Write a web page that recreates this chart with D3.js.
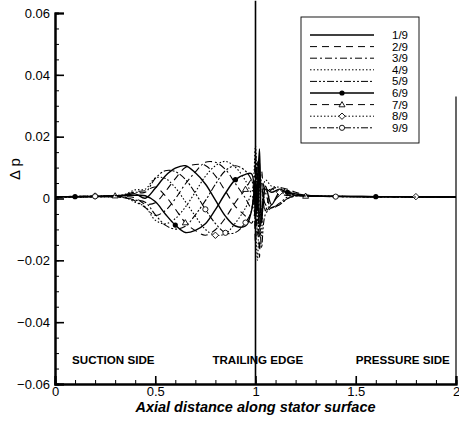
<!DOCTYPE html>
<html>
<head>
<meta charset="utf-8">
<script src="https://cdn.jsdelivr.net/npm/d3@7"></script>
<style>
  body { margin: 0; background: #fff; }
  text { font-family: 'Liberation Sans', Arial, sans-serif; fill: #000; }
</style>
</head>
<body>
<svg id="chart" width="459" height="421"></svg>
<script>
// axial positions shared by all series
const xs = [0, 0.1, 0.2, 0.3, 0.35, 0.4, 0.45, 0.5, 0.55, 0.6, 0.65, 0.7, 0.75, 0.8, 0.85, 0.9, 0.95,
  0.98, 1.0, 1.01, 1.02, 1.03, 1.05, 1.08, 1.12, 1.16, 1.2, 1.25, 1.3, 1.4, 1.6, 1.8, 2.0]

const names = ['1/9', '2/9', '3/9', '4/9', '5/9', '6/9', '7/9', '8/9', '9/9']

const s1 = [0.0005, 0.0006, 0.0007, 0.0008, 0.001, 0.0015,
  0.0001, 0.0033, 0.0073, 0.0098, 0.0106, 0.0083, 0.0047, -0.0005, -0.0057, -0.0089, -0.0089,
  -0.004, 0.006, -0.004, 0.012, -0.006, 0.004, -0.002, 0.002, 0.002, 0.001, 0.001, 0.0008,
  0.0007, 0.0006, 0.0005, 0.0005]
const s2 = [0.0005, 0.0005, 0.0006, 0.0007, 0.0006, 0.0002,
  -0.0018, -0.0014, 0.0022, 0.0064, 0.0100, 0.0110, 0.0107, 0.0073, 0.0024, -0.0026, -0.0057,
  -0.008, -0.003, 0.010, 0.004, 0.009, -0.004, 0.003, 0.0035, 0.003, 0.002, 0.0012, 0.0008,
  0.0007, 0.0006, 0.0006, 0.0005]
const s3 = [0.0004, 0.0005, 0.0005, 0.0006, 0.0004, -0.0008,
  -0.0029, -0.0055, -0.0039, -0.0001, 0.0047, 0.0086, 0.0117, 0.0117, 0.0094, 0.0048, 0.0001,
  -0.003, 0.014, 0.002, -0.006, 0.006, 0.002, -0.003, -0.002, 0.0, 0.0008, 0.0008, 0.0007,
  0.0006, 0.0005, 0.0005, 0.0005]
const s4 = [0.0004, 0.0004, 0.0005, 0.0005, 0.0003, -0.0012,
  -0.0027, -0.0070, -0.0082, -0.0065, -0.0028, 0.0021, 0.0072, 0.0106, 0.0120, 0.0101, 0.0058,
  0.002, 0.017, -0.008, 0.008, -0.004, 0.006, 0.004, 0.0036, 0.0025, 0.0015, 0.001, 0.0008,
  0.0007, 0.0006, 0.0005, 0.0005]
const s5 = [0.0005, 0.0005, 0.0006, 0.0005, 0.0002, -0.0005,
  -0.0012, -0.0052, -0.0086, -0.0099, -0.0090, -0.0053, -0.0007, 0.0046, 0.0090, 0.0106, 0.0089,
  0.006, 0.002, 0.012, -0.010, 0.003, -0.002, -0.003, -0.0015, 0.0005, 0.001, 0.0009, 0.0007,
  0.0006, 0.0006, 0.0005, 0.0005]
const s6 = [0.0006, 0.0006, 0.0007, 0.0008, 0.0009, 0.0010,
  0.0009, -0.0010, -0.0050, -0.0086, -0.0110, -0.0103, -0.0082, -0.0036, 0.0017, 0.0061, 0.0078,
  0.008, -0.006, 0.004, 0.016, -0.008, 0.003, 0.002, 0.003, 0.002, 0.0015, 0.001, 0.0008,
  0.0007, 0.0006, 0.0006, 0.0005]
const s7 = [0.0006, 0.0007, 0.0008, 0.0009, 0.0012, 0.0022,
  0.0025, 0.0037, 0.0009, -0.0034, -0.0078, -0.0104, -0.0119, -0.0101, -0.0063, -0.0012, 0.0030,
  0.006, -0.014, 0.008, -0.019, 0.005, -0.004, -0.002, 0.001, 0.001, 0.001, 0.0008, 0.0007,
  0.0007, 0.0006, 0.0005, 0.0005]
const s8 = [0.0006, 0.0007, 0.0008, 0.001, 0.0014, 0.0028,
  0.0030, 0.0066, 0.0065, 0.0035, -0.0010, -0.0057, -0.0100, -0.0119, -0.0114, -0.0079, -0.0031,
  0.001, -0.010, -0.020, 0.006, -0.012, 0.002, 0.003, 0.002, 0.0015, 0.001, 0.0009, 0.0008,
  0.0007, 0.0006, 0.0006, 0.0005]
const s9 = [0.0005, 0.0006, 0.0007, 0.0009, 0.0012, 0.0020,
  0.0020, 0.0065, 0.0090, 0.0087, 0.0062, 0.0017, -0.0035, -0.0081, -0.0111, -0.0110, -0.0078,
  -0.004, 0.004, -0.012, -0.004, -0.016, -0.005, -0.003, -0.002, 0.0, 0.0008, 0.0008, 0.0007,
  0.0006, 0.0005, 0.0005, 0.0005]

const series = [s1, s2, s3, s4, s5, s6, s7, s8, s9]

// which points of a series carry a symbol (series 6..9 only)
const markerIdx = [[], [], [], [], [], [1, 9, 15, 25, 30], [3, 10, 16, 27], [2, 13, 24, 31], [2, 12, 14, 16, 29]]

const yTicks = [-0.06, -0.04, -0.02, 0, 0.02, 0.04, 0.06]
const xTicks = [0, 0.5, 1, 1.5, 2]

const dashes = ['none', '7,5', '7,3,2,3', '1.5,2', '7,2,2,2,2,2', 'none', '7,5', '1.5,2', '7,2,2,2,2,2']
const symbols = [null, null, null, null, null, 'dot', 'tri', 'dia', 'circ']

const svg = d3.select('#chart')
const x = d3.scaleLinear().domain([0, 2]).range([55, 456])
const y = d3.scaleLinear().domain([-0.06, 0.06]).range([384, 13])

function drawSymbol(g, type, cx, cy) {
  if (type === 'dot') {
    g.append('circle').attr('cx', cx).attr('cy', cy).attr('r', 2.6).attr('fill', '#000')
  } else if (type === 'circ') {
    g.append('circle').attr('cx', cx).attr('cy', cy).attr('r', 2.6)
      .attr('fill', '#fff').attr('stroke', '#000').attr('stroke-width', 0.9)
  } else if (type === 'tri') {
    g.append('path').attr('d', `M${cx},${cy - 3}L${cx + 3},${cy + 2.2}L${cx - 3},${cy + 2.2}Z`)
      .attr('fill', '#fff').attr('stroke', '#000').attr('stroke-width', 0.9)
  } else if (type === 'dia') {
    g.append('path').attr('d', `M${cx},${cy - 3.2}L${cx + 3.2},${cy}L${cx},${cy + 3.2}L${cx - 3.2},${cy}Z`)
      .attr('fill', '#fff').attr('stroke', '#000').attr('stroke-width', 0.9)
  }
}

// curves
const line = d3.line()
  .x((d, i) => x(xs[i]))
  .y(d => y(d))
  .curve(d3.curveCatmullRom.alpha(0.5))

const curves = svg.append('g')
series.forEach((s, k) => {
  curves.append('path')
    .datum(s)
    .attr('d', line)
    .attr('fill', 'none')
    .attr('stroke', '#000')
    .attr('stroke-width', k === 0 || k === 5 ? 1.4 : 1.1)
    .attr('stroke-dasharray', dashes[k])
  markerIdx[k].forEach(i => drawSymbol(curves, symbols[k], x(xs[i]), y(s[i])))
})

// trailing edge line
svg.append('line')
  .attr('x1', x(1)).attr('x2', x(1))
  .attr('y1', y(0.064)).attr('y2', y(-0.06))
  .attr('stroke', '#000').attr('stroke-width', 1.6)

// right frame (only the lower part shows in the original)
svg.append('line')
  .attr('x1', x(2)).attr('x2', x(2))
  .attr('y1', y(0.033)).attr('y2', y(-0.06))
  .attr('stroke', '#000').attr('stroke-width', 1.2)

// axes
const yAxis = d3.axisLeft(y).tickValues(yTicks).tickSize(-9).tickPadding(5)
  .tickFormat(d => d === 0 ? '0' : d3.format('.2f')(d))
const yMinor = d3.axisLeft(y).tickValues(d3.range(-0.06, 0.0601, 0.005)).tickSize(-4).tickFormat('')
const xAxis = d3.axisBottom(x).tickValues(xTicks).tickSize(-8).tickPadding(3)
  .tickFormat(d => d)
const xMinor = d3.axisBottom(x).tickValues(d3.range(0, 2.001, 0.1)).tickSize(-4).tickFormat('')

function styleAxis(g) {
  g.select('.domain').attr('stroke-width', 2).attr('stroke', '#000')
  g.selectAll('.tick line').attr('stroke', '#000').attr('stroke-width', 1.6)
  g.selectAll('text').attr('font-size', 13).attr('font-family', "'Liberation Sans', Arial, sans-serif")
}

svg.append('g').attr('transform', `translate(${x(0)},0)`).call(yMinor).call(styleAxis)
  .selectAll('.tick line').attr('stroke-width', 1)
svg.append('g').attr('transform', `translate(${x(0)},0)`).call(yAxis).call(styleAxis)
svg.append('g').attr('transform', `translate(0,${y(-0.06)})`).call(xMinor).call(styleAxis)
  .selectAll('.tick line').attr('stroke-width', 1)
svg.append('g').attr('transform', `translate(0,${y(-0.06)})`).call(xAxis).call(styleAxis)

// axis titles
svg.append('text')
  .attr('x', x(1)).attr('y', 412)
  .attr('text-anchor', 'middle')
  .attr('font-size', 14.5).attr('font-weight', 'bold').attr('font-style', 'italic')
  .text('Axial distance along stator surface')

svg.append('text')
  .attr('transform', `translate(20,${y(0.0095)}) rotate(-90)`)
  .attr('text-anchor', 'middle')
  .attr('font-size', 15)
  .text('Δ p')

// region labels
const regions = [['SUCTION SIDE', 0.085], ['TRAILING EDGE', 0.785], ['PRESSURE SIDE', 1.5]]
regions.forEach(([t, xv]) => {
  svg.append('text')
    .attr('x', x(xv)).attr('y', y(-0.0535))
    .attr('font-size', 11.6).attr('font-weight', 'bold')
    .text(t)
})

// legend
const lg = svg.append('g')
lg.append('rect')
  .attr('x', 301).attr('y', 17).attr('width', 118).attr('height', 126)
  .attr('fill', '#fff').attr('stroke', '#000').attr('stroke-width', 0.9)
names.forEach((n, k) => {
  const ly = 35 + k * 11.6
  lg.append('line')
    .attr('x1', 310).attr('x2', 374).attr('y1', ly).attr('y2', ly)
    .attr('stroke', '#000')
    .attr('stroke-width', k === 0 || k === 5 ? 1.3 : 1)
    .attr('stroke-dasharray', dashes[k])
  if (symbols[k]) drawSymbol(lg, symbols[k], 342, ly)
  lg.append('text')
    .attr('x', 408).attr('y', ly + 4)
    .attr('text-anchor', 'end')
    .attr('font-size', 11.5)
    .text(n)
})
</script>
</body>
</html>
